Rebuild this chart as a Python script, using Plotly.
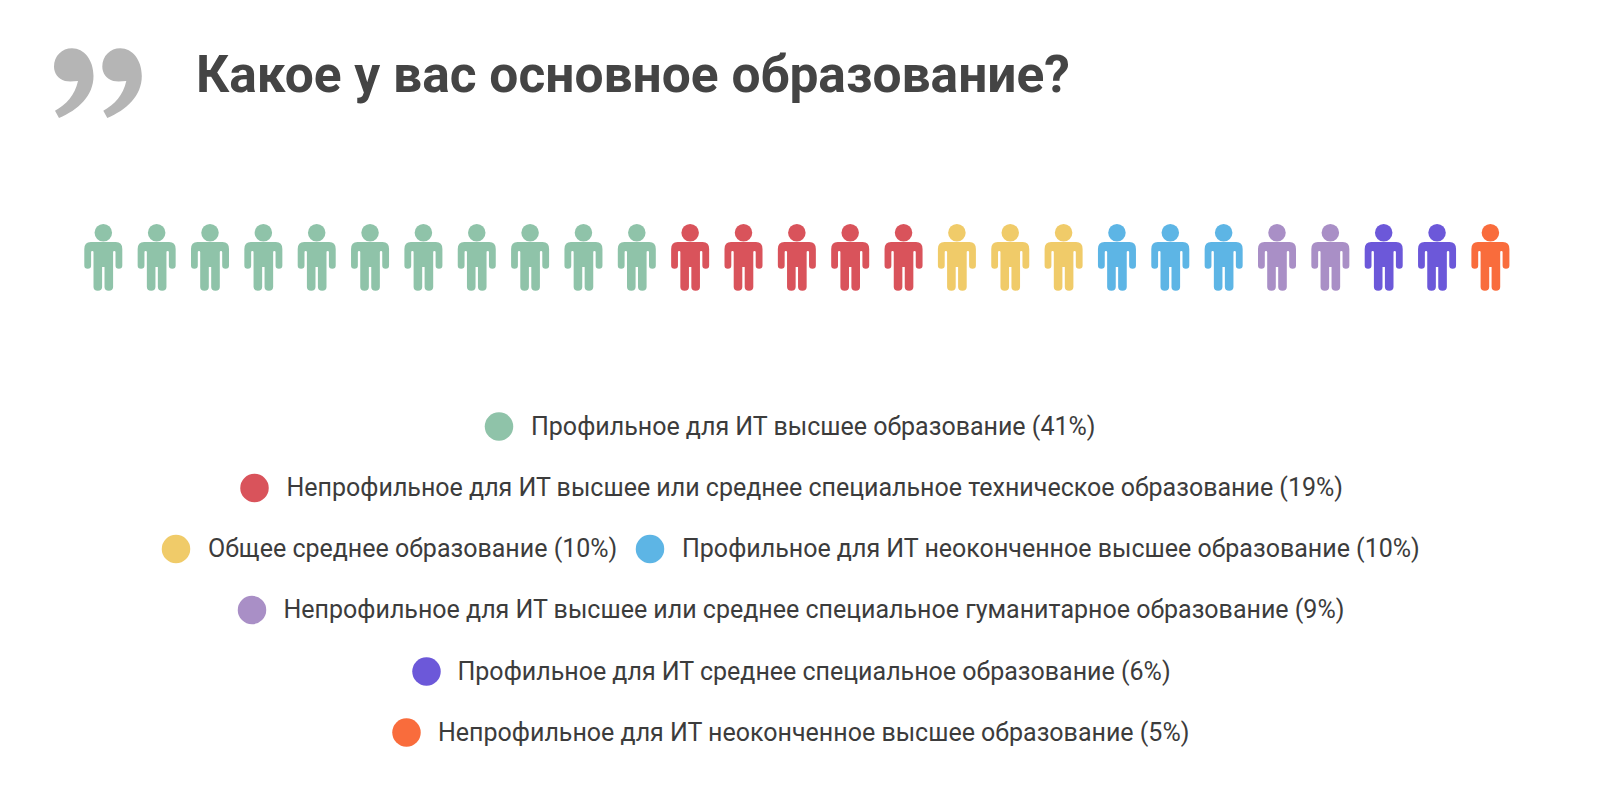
import plotly.graph_objects as go

# --- data ---
title = "Какое у вас основное образование?"
labels = [
    "Профильное для ИТ высшее образование",
    "Непрофильное для ИТ высшее или среднее специальное техническое образование",
    "Общее среднее образование",
    "Профильное для ИТ неоконченное высшее образование",
    "Непрофильное для ИТ высшее или среднее специальное гуманитарное образование",
    "Профильное для ИТ среднее специальное образование",
    "Непрофильное для ИТ неоконченное высшее образование",
]
percents = [41, 19, 10, 10, 9, 6, 5]
people = [11, 5, 3, 3, 2, 2, 1]

# --- styles and layout ---
colors = ["#8fc3a9", "#d9535b", "#f0cb69", "#5db5e5", "#a98fc6", "#6c58d9", "#f96c3c"]
dot_x = [499, 254.5, 176, 650, 252, 426.5, 406.5]
dot_y = [426.5, 488, 549, 549, 610, 671.5, 732.5]
text_x = [531, 286.5, 208, 682, 283.5, 457.5, 438]
text_dy = 2.2
W, H = 1600, 793
first_x, step = 103.3, 53.35
head_y, body_anchor_y = 232.7, 242
S = 1.0

def body_path():
    # pixel offsets from the shoulder line, y pointing down in the list
    pts = [
        ("M", -12.5, 0), ("L", 12.5, 0), ("Q", 19, 0, 19, 7), ("L", 19, 23.5),
        ("Q", 19, 26.7, 15.6, 26.7), ("Q", 12.2, 26.7, 12.2, 23.5), ("L", 12.2, 10),
        ("Q", 12.2, 9, 11, 9), ("Q", 9.8, 9, 9.8, 10), ("L", 9.8, 45), ("Q", 9.8, 48.7, 5.5, 48.7),
        ("Q", 1.2, 48.7, 1.2, 45),
        ("L", 1.2, 25), ("L", -1.2, 25), ("L", -1.2, 45), ("Q", -1.2, 48.7, -5.5, 48.7),
        ("Q", -9.8, 48.7, -9.8, 45), ("L", -9.8, 10), ("Q", -9.8, 9, -11, 9), ("Q", -12.2, 9, -12.2, 10),
        ("L", -12.2, 23.5),
        ("Q", -12.2, 26.7, -15.6, 26.7), ("Q", -19, 26.7, -19, 23.5), ("L", -19, 7),
        ("Q", -19, 0, -12.5, 0),
    ]
    out = []
    for p in pts:
        c = p[0]
        nums = p[1:]
        coords = [f"{nums[i] * S:.2f},{-nums[i + 1] * S:.2f}" for i in range(0, len(nums), 2)]
        out.append(c + " ".join(coords))
    return " ".join(out) + " Z"

BODY = body_path()

def quote_path(dx):
    def P(x, y):
        return f"{x + dx},{y}"
    return (f"M{P(72,48.3)} C{P(84,48.3)} {P(93.5,60)} {P(93.5,76)} C{P(93.5,96)} {P(78,110)} {P(59,118)} "
            f"L{P(55,110.7)} C{P(66,105)} {P(75,95)} {P(78,81)} C{P(72,81.5)} {P(68,81.5)} {P(65,81)} "
            f"C{P(58,79)} {P(54,73)} {P(54,66.5)} C{P(54,56)} {P(62,48.3)} {P(72,48.3)} Z")

fig = go.Figure()
shapes = []
idx = 0
for name, n, col in zip(labels, people, colors):
    xs = [first_x + step * (idx + k) for k in range(n)]
    idx += n
    fig.add_trace(go.Scatter(x=xs, y=[head_y] * n, mode="markers", name=name, showlegend=False,
                             marker=dict(size=17.5, color=col, line=dict(width=0))))
    for x in xs:
        shapes.append(dict(type="path", layer="below", xref="x", yref="y",
                           xsizemode="pixel", ysizemode="pixel",
                           xanchor=x, yanchor=body_anchor_y, path=BODY,
                           fillcolor=col, line=dict(width=0)))

for dx in (0, 48.3):
    shapes.append(dict(type="path", layer="below", xref="x", yref="y", path=quote_path(dx),
                       fillcolor="#b5b5b5", line=dict(width=0)))

# legend rows
fig.add_trace(go.Scatter(x=dot_x, y=dot_y, mode="markers", showlegend=False,
                         marker=dict(size=28.5, color=colors, line=dict(width=0))))
fig.add_trace(go.Scatter(x=text_x, y=[y + text_dy for y in dot_y], mode="text", showlegend=False,
                         text=[f"{l} ({p}%)" for l, p in zip(labels, percents)],
                         textposition="middle right",
                         textfont=dict(family="Roboto", size=25, color="#3c3c3c")))

fig.add_annotation(x=194, y=74, xref="x", yref="y", text=f"<b>{title}</b>", showarrow=False,
                   xanchor="left", yanchor="middle",
                   font=dict(family="Roboto", size=51.5, color="#444444"))

fig.update_layout(width=W, height=H, margin=dict(l=0, r=0, t=0, b=0),
                  paper_bgcolor="white", plot_bgcolor="white", shapes=shapes,
                  xaxis=dict(range=[0, W], visible=False, fixedrange=True),
                  yaxis=dict(range=[H, 0], visible=False, fixedrange=True))
fig.write_html("out.html", post_script="document.body.style.margin='0';",
               config=dict(displayModeBar=False))
